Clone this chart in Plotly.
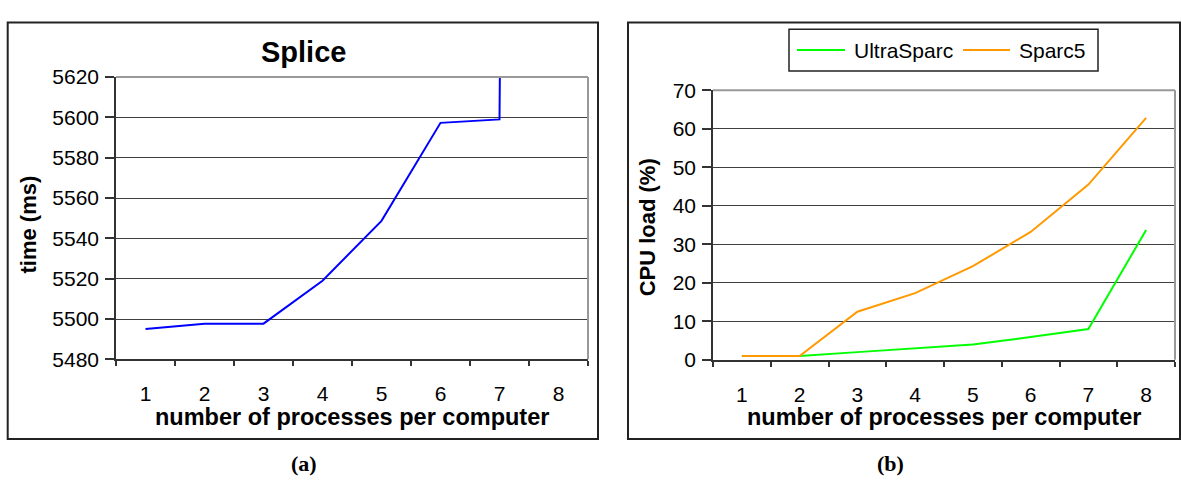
import plotly.graph_objects as go

# ---- data ----
categories = ["1", "2", "3", "4", "5", "6", "7", "8"]
splice_time = [5495, 5497.7, 5497.7, 5519, 5548.7, 5597.3, 5599, 9000]
ultrasparc_load = [1, 1, 2, 3, 4, 5.9, 8, 33.7]
sparc5_load = [1, 1, 12.5, 17.3, 24.3, 33.2, 45.5, 62.8]

W, H = 1181, 489
FONT = "Arial, 'Liberation Sans', sans-serif"
SERIF = "'Times New Roman', 'Liberation Serif', serif"


def px(x):
    return x / W


def py(y):
    return 1 - y / H


fig = go.Figure()
fig.add_trace(go.Scatter(x=categories, y=splice_time, mode="lines",
                         line=dict(color="#0000FF", width=2),
                         xaxis="x", yaxis="y", showlegend=False))
fig.add_trace(go.Scatter(x=categories, y=ultrasparc_load, mode="lines", name="UltraSparc",
                         line=dict(color="#00FF00", width=2),
                         xaxis="x2", yaxis="y2", showlegend=False))
fig.add_trace(go.Scatter(x=categories, y=sparc5_load, mode="lines", name="Sparc5",
                         line=dict(color="#FF9900", width=2),
                         xaxis="x2", yaxis="y2", showlegend=False))

xcommon = dict(type="category", range=[-0.5, 7.5], tickson="boundaries",
               ticks="outside", ticklen=5, tickcolor="#333", tickwidth=1.5,
               showline=True, linecolor="#333", linewidth=1.5, showgrid=False,
               zeroline=False, ticklabelstandoff=15,
               tickfont=dict(family=FONT, size=21, color="#000"))
ycommon = dict(showgrid=True, gridcolor="#404040", gridwidth=1,
               ticks="outside", ticklen=9, tickcolor="#333", tickwidth=1.5,
               showline=True, linecolor="#333", linewidth=1.5, zeroline=False,
               ticklabelstandoff=2,
               tickfont=dict(family=FONT, size=21, color="#000"))

fig.update_layout(
    width=W, height=H, autosize=False,
    margin=dict(l=0, r=0, t=0, b=0),
    paper_bgcolor="white", plot_bgcolor="white",
    xaxis=dict(domain=[px(116), px(588)], anchor="y", **xcommon),
    yaxis=dict(domain=[py(364.5), py(68.3)], anchor="x", range=[5480, 5620],
               tick0=5480, dtick=20, **ycommon),
    xaxis2=dict(domain=[px(713), px(1175)], anchor="y2", **xcommon),
    yaxis2=dict(domain=[py(365), py(82)], anchor="x2", range=[0, 70],
                tick0=0, dtick=10, **ycommon),
)

shapes = []
# panel boxes
shapes.append(dict(type="rect", xref="paper", yref="paper",
                   x0=px(7.7), x1=px(598), y0=py(448), y1=py(11),
                   line=dict(color="#222", width=2), fillcolor="rgba(0,0,0,0)"))
shapes.append(dict(type="rect", xref="paper", yref="paper",
                   x0=px(628), x1=px(1180), y0=py(448), y1=py(11),
                   line=dict(color="#222", width=2), fillcolor="rgba(0,0,0,0)"))
# gray plot-area frame (top and right)
for ax in ["x", "x2"]:
    ya = "y" if ax == "x" else "y2"
    shapes.append(dict(type="line", xref=f"{ax} domain", yref=f"{ya} domain",
                       x0=0, x1=1, y0=1, y1=1, line=dict(color="#999", width=2)))
    shapes.append(dict(type="line", xref=f"{ax} domain", yref=f"{ya} domain",
                       x0=1, x1=1, y0=0, y1=1, line=dict(color="#999", width=2)))
# manual legend
shapes.append(dict(type="rect", xref="paper", yref="paper",
                   x0=px(789), x1=px(1098), y0=py(62), y1=py(18),
                   line=dict(color="#222", width=1.5), fillcolor="white"))
shapes.append(dict(type="line", xref="paper", yref="paper",
                   x0=px(797), x1=px(845), y0=py(40), y1=py(40),
                   line=dict(color="#00FF00", width=2)))
shapes.append(dict(type="line", xref="paper", yref="paper",
                   x0=px(963), x1=px(1010), y0=py(40), y1=py(40),
                   line=dict(color="#FF9900", width=2)))
fig.update_layout(shapes=shapes)

ann = []
ann.append(dict(text="<b>Splice</b>", x=px(303), y=py(42), xref="paper", yref="paper",
                showarrow=False, xanchor="center", yanchor="middle",
                font=dict(family=FONT, size=29, color="#000")))
ann.append(dict(text="<b>time (ms)</b>", x=px(29), y=py(223), xref="paper", yref="paper",
                showarrow=False, xanchor="center", yanchor="middle", textangle=-90,
                font=dict(family=FONT, size=22, color="#000")))
ann.append(dict(text="<b>CPU load (%)</b>", x=px(647), y=py(226), xref="paper", yref="paper",
                showarrow=False, xanchor="center", yanchor="middle", textangle=-90,
                font=dict(family=FONT, size=22, color="#000")))
ann.append(dict(text="<b>number of processes per computer</b>", x=px(352), y=py(425),
                xref="paper", yref="paper", showarrow=False, xanchor="center", yanchor="middle",
                font=dict(family=FONT, size=23.5, color="#000")))
ann.append(dict(text="<b>number of processes per computer</b>", x=px(944), y=py(425),
                xref="paper", yref="paper", showarrow=False, xanchor="center", yanchor="middle",
                font=dict(family=FONT, size=23.5, color="#000")))
ann.append(dict(text="UltraSparc", x=px(852), y=py(40), xref="paper", yref="paper",
                showarrow=False, xanchor="left", yanchor="middle",
                font=dict(family=FONT, size=21, color="#000")))
ann.append(dict(text="Sparc5", x=px(1017), y=py(40), xref="paper", yref="paper",
                showarrow=False, xanchor="left", yanchor="middle",
                font=dict(family=FONT, size=21, color="#000")))
ann.append(dict(text="<b>(a)</b>", x=px(304), y=py(474), xref="paper", yref="paper",
                showarrow=False, xanchor="center", yanchor="middle",
                font=dict(family=SERIF, size=22, color="#000")))
ann.append(dict(text="<b>(b)</b>", x=px(890), y=py(474), xref="paper", yref="paper",
                showarrow=False, xanchor="center", yanchor="middle",
                font=dict(family=SERIF, size=22, color="#000")))
fig.update_layout(annotations=ann)

fig.write_html("out.html", config={"displayModeBar": False},
               post_script="document.body.style.margin='0';document.body.style.overflow='hidden';")
